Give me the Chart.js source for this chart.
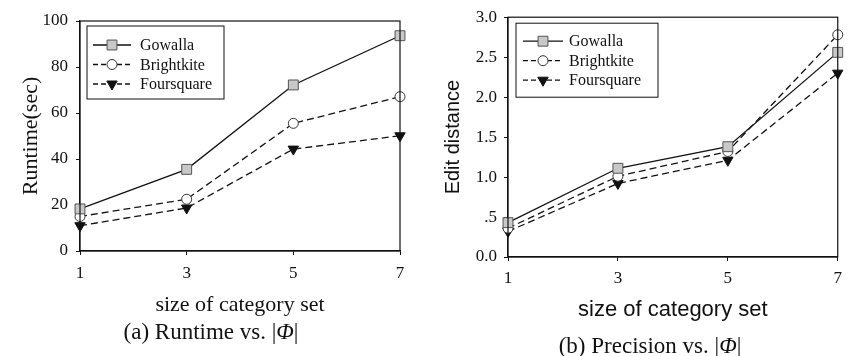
<!DOCTYPE html>
<html>
<head>
<meta charset="utf-8">
<script src="https://cdn.jsdelivr.net/npm/chart.js@4.4.1/dist/chart.umd.min.js"></script>
<style>
  body { margin: 0; background: #fff; }
  #wrap { position: relative; width: 849px; height: 356px; overflow: hidden; }
  canvas { position: absolute; top: 0; }
  #c1 { left: 0; }
  #c2 { left: 420px; }
  .cap { position: absolute; font-family: "Liberation Serif", serif; font-size: 23px; color: #111; white-space: nowrap; transform: translate(-50%, -50%); }
</style>
</head>
<body>
<div id="wrap">
  <canvas id="c1" width="420" height="356"></canvas>
  <canvas id="c2" width="429" height="356"></canvas>
  <div class="cap" style="left:211px; top:332px;">(a) Runtime vs. |<i>Φ</i>|</div>
  <div class="cap" style="left:650px; top:346px;">(b) Precision vs. |<i>Φ</i>|</div>
</div>
<script>
// ---------- data ----------
const sizes = ["1", "3", "5", "7"];
const seriesNames = ["Gowalla", "Brightkite", "Foursquare"];

const runtimeGowalla = [18.3, 35.5, 72.2, 93.6];
const runtimeBrightkite = [15.0, 22.5, 55.5, 67.1];
const runtimeFoursquare = [11.0, 18.7, 44.3, 50.1];

const editGowalla = [0.43, 1.11, 1.38, 2.56];
const editBrightkite = [0.36, 1.01, 1.32, 2.78];
const editFoursquare = [0.32, 0.92, 1.21, 2.30];

const runtimeTicks = [0, 20, 40, 60, 80, 100];
const editTicks = ["0.0", ".5", "1.0", "1.5", "2.0", "2.5", "3.0"];

// ---------- styles ----------
const SERIF = "'Liberation Serif', serif";
const SANS = "'Liberation Sans', sans-serif";
const INK = "#111";

function makeDatasets(values) {
  return [
    { label: seriesNames[0], data: values[0], borderColor: INK, borderWidth: 1.3,
      pointStyle: "rect", pointRadius: 7, pointBackgroundColor: "#c8c8c8",
      pointBorderColor: "#555", pointBorderWidth: 1 },
    { label: seriesNames[1], data: values[1], borderColor: INK, borderWidth: 1.3,
      borderDash: [7, 4], pointStyle: "circle", pointRadius: 5,
      pointBackgroundColor: "#fff", pointBorderColor: "#333", pointBorderWidth: 1 },
    { label: seriesNames[2], data: values[2], borderColor: INK, borderWidth: 1.3,
      borderDash: [7, 4], pointStyle: "triangle", pointRotation: 180, pointRadius: 6,
      pointBackgroundColor: INK, pointBorderColor: INK, pointBorderWidth: 1 }
  ].map(d => Object.assign(d, { fill: false, tension: 0, clip: false }));
}

// box around plot + legend inside
const framePlugin = {
  id: "frame",
  afterDatasetsDraw(chart, args, opts) {
    const { ctx, chartArea: a } = chart;
    ctx.save();
    ctx.strokeStyle = INK;
    ctx.lineWidth = 1.2;
    ctx.strokeRect(a.left, a.top, a.right - a.left, a.bottom - a.top);

    // legend
    const L = opts.legend;
    const bx = a.left + L.dx, by = a.top + L.dy;
    ctx.fillStyle = "#fff";
    ctx.fillRect(bx, by, L.w, L.h);
    ctx.lineWidth = 1;
    ctx.strokeRect(bx, by, L.w, L.h);
    ctx.font = "16px " + SERIF;
    ctx.textBaseline = "middle";
    chart.data.datasets.forEach((ds, i) => {
      const y = by + L.row0 + i * L.rowGap;
      const x0 = bx + L.lineX0, x1 = bx + L.lineX1;
      ctx.strokeStyle = INK;
      ctx.lineWidth = 1.3;
      ctx.setLineDash(ds.borderDash ? [5, 3] : []);
      ctx.beginPath();
      ctx.moveTo(x0, y);
      ctx.lineTo(x1, y);
      ctx.stroke();
      ctx.setLineDash([]);
      ctx.fillStyle = ds.pointBackgroundColor;
      ctx.strokeStyle = ds.pointBorderColor;
      ctx.lineWidth = 1;
      Chart.helpers.drawPoint(ctx, {
        pointStyle: ds.pointStyle, radius: ds.pointRadius,
        rotation: ds.pointRotation || 0, borderWidth: 1
      }, (x0 + x1) / 2, y);
      ctx.fillStyle = INK;
      ctx.fillText(ds.label, bx + L.textX, y + 1);
    });
    ctx.restore();
  }
};

function makeChart(id, cfg) {
  return new Chart(document.getElementById(id), {
    type: "line",
    data: { labels: sizes, datasets: makeDatasets(cfg.values) },
    plugins: [framePlugin],
    options: {
      responsive: false,
      animation: false,
      layout: { padding: cfg.padding },
      plugins: {
        legend: { display: false },
        tooltip: { enabled: false },
        frame: { legend: cfg.legend }
      },
      scales: {
        x: {
          type: "category",
          offset: false,
          grid: { drawOnChartArea: false, offset: false, tickLength: 4, color: INK },
          border: { color: INK, width: 1.2 },
          ticks: { color: INK, font: { family: SERIF, size: 17 }, padding: cfg.xTickPad, maxRotation: 0 },
          title: { display: true, text: "size of category set", color: INK,
                   font: { family: cfg.titleFont, size: 22 }, padding: { top: 0, bottom: cfg.xTitlePad } },
          afterFit: s => { s.height = cfg.xHeight; }
        },
        y: {
          min: cfg.yMin, max: cfg.yMax,
          afterBuildTicks: s => { s.ticks = cfg.yTicks.map(v => ({ value: v })); },
          grid: { drawOnChartArea: false, tickLength: 4, color: INK },
          border: { color: INK, width: 1.2 },
          ticks: { color: INK, font: { family: SERIF, size: 17 }, padding: cfg.yTickPad,
                   callback: cfg.yFormat },
          title: { display: true, text: cfg.yTitle, color: INK,
                   font: { family: cfg.titleFont, size: cfg.yTitleSize }, padding: { top: cfg.yTitlePad, bottom: 0 } },
          afterFit: s => { s.width = cfg.yWidth; }
        }
      }
    }
  });
}

makeChart("c1", {
  values: [runtimeGowalla, runtimeBrightkite, runtimeFoursquare],
  padding: { top: 21, right: 20, left: 0, bottom: 0 },
  xHeight: 105, xTickPad: 8, xTitlePad: 38,
  yWidth: 80, yTickPad: 8, yTitlePad: 18, yTitleSize: 22,
  yMin: 0, yMax: 100,
  yTicks: runtimeTicks,
  yFormat: v => String(v),
  yTitle: "Runtime(sec)",
  titleFont: SERIF,
  legend: { dx: 7, dy: 5, w: 137, h: 73, row0: 19, rowGap: 19.5, lineX0: 6, lineX1: 44, textX: 53 }
});

makeChart("c2", {
  values: [editGowalla, editBrightkite, editFoursquare],
  padding: { top: 16, right: 6, left: 0, bottom: 0 },
  xHeight: 99, xTickPad: 7, xTitlePad: 33,
  yWidth: 88, yTickPad: 7, yTitlePad: 21, yTitleSize: 20,
  yMin: 0, yMax: 3,
  yTicks: editTicks.map(Number),
  yFormat: v => editTicks[Math.round(v * 2)],
  yTitle: "Edit distance",
  titleFont: SANS,
  legend: { dx: 8, dy: 6, w: 142, h: 74, row0: 18, rowGap: 19.5, lineX0: 7, lineX1: 47, textX: 53 }
});
</script>
</body>
</html>
